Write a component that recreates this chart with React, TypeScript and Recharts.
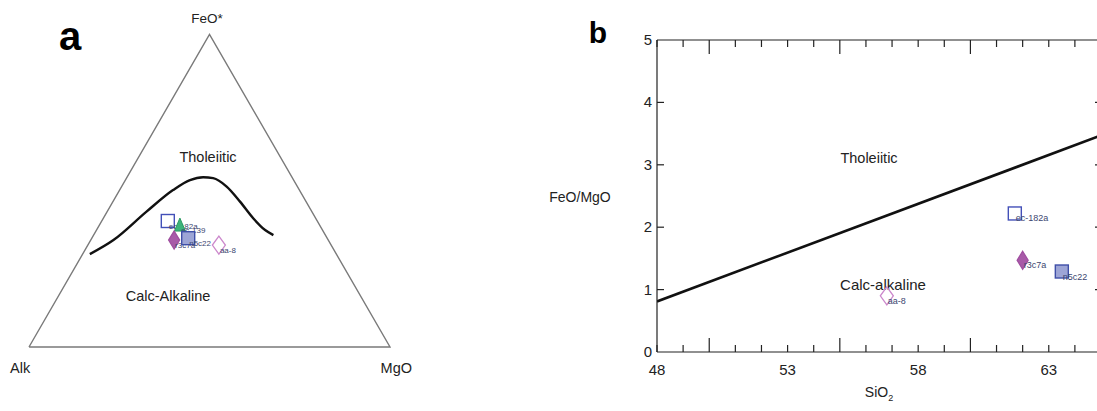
import React from 'react';
import { ComposedChart, Scatter, Line, XAxis, YAxis } from 'recharts';

const FONT = '"Liberation Sans", Arial, sans-serif';

// panel a: AFM ternary, Irvine & Baragar boundary (wt% Alk / FeO* / MgO)
const curveAlk = [68.3, 59.5, 45.8, 35.0, 28.7, 24.6, 22.0, 19.6, 18.3, 17.3, 15.9, 14.4];
const curveFeO = [29.7, 34.2, 43.3, 50.2, 53.4, 54.3, 54.0, 51.3, 46.5, 41.2, 37.4, 35.8];
const curveMgO = [2.0, 6.3, 10.9, 14.8, 17.9, 21.1, 24.0, 29.1, 35.2, 41.5, 46.7, 49.8];

const cornerAlk = [100, 0, 0, 100];
const cornerFeO = [0, 0, 100, 0];
const cornerMgO = [0, 100, 0, 0];

const afmNames = ['ec-182a', 'ec-139', 'r3c7a', 'n5c22', 'aa-8'];
const afmAlk = [41.4, 38.7, 42.7, 38.5, 31.1];
const afmFeO = [40.3, 39.0, 34.2, 34.8, 32.6];
const afmMgO = [18.3, 22.3, 23.1, 26.7, 36.3];

// panel b: FeO/MgO vs SiO2
const ratioNames = ['ec-182a', 'r3c7a', 'n5c22', 'aa-8'];
const ratioSiO2 = [61.7, 62.0, 63.5, 56.8];
const ratioFeOMgO = [2.22, 1.47, 1.29, 0.9];

const boundarySiO2 = [48, 65];
const boundaryRatio = [0.81, 3.47];

const xTicks = [48, 49, 50, 51, 52, 53, 54, 55, 56, 57, 58, 59, 60, 61, 62, 63, 64, 65];
const xLabels = [48, 53, 58, 63];
const yTicks = [0, 1, 2, 3, 4, 5];

const markerStyle: Record<string, { shape: string; fill: string; stroke: string }> = {
  'ec-182a': { shape: 'square', fill: 'none', stroke: '#4350b8' },
  'ec-139': { shape: 'triangle', fill: '#3db37a', stroke: '#2d9a63' },
  'r3c7a': { shape: 'diamond', fill: '#a85aa8', stroke: '#a04fa0' },
  'n5c22': { shape: 'square', fill: '#9da5d6', stroke: '#3f4fa8' },
  'aa-8': { shape: 'diamond', fill: 'none', stroke: '#cc88cc' },
};

const toTernary = (a: number, f: number, m: number) => {
  const s = a + f + m;
  const F = f / s;
  const M = m / s;
  return { x: M + F / 2, y: (F * Math.sqrt(3)) / 2 };
};

const curveData = curveFeO.map((f, i) => toTernary(curveAlk[i], f, curveMgO[i]));
const triangleData = cornerFeO.map((f, i) => toTernary(cornerAlk[i], f, cornerMgO[i]));
const afmData = afmNames.map((name, i) => ({ name, ...toTernary(afmAlk[i], afmFeO[i], afmMgO[i]) }));
const ratioData = ratioNames.map((name, i) => ({ name, x: ratioSiO2[i], y: ratioFeOMgO[i] }));
const boundaryData = boundarySiO2.map((x, i) => ({ x, y: boundaryRatio[i] }));

const makeMarker = (fontSize: number, dy: number) => (props: any) => {
  const { cx, cy, payload } = props;
  const st = markerStyle[payload.name];
  let mark;
  if (st.shape === 'square') {
    mark = <rect x={cx - 6.5} y={cy - 6.5} width={13} height={13} fill={st.fill} stroke={st.stroke} strokeWidth={1.4} />;
  } else if (st.shape === 'triangle') {
    mark = <polygon points={`${cx},${cy - 7} ${cx + 5.5},${cy + 6} ${cx - 5.5},${cy + 6}`} fill={st.fill} stroke={st.stroke} />;
  } else {
    const hw = st.fill === 'none' ? 6.5 : 5.5;
    mark = (
      <polygon
        points={`${cx},${cy - 9} ${cx + hw},${cy} ${cx},${cy + 9} ${cx - hw},${cy}`}
        fill={st.fill}
        stroke={st.stroke}
        strokeWidth={1.3}
      />
    );
  }
  return (
    <g>
      {mark}
      <text x={cx + 1} y={cy + dy} fontSize={fontSize} fill="#3b4670" fontFamily={FONT}>
        {payload.name}
      </text>
    </g>
  );
};

const BottomTick = (props: any) => {
  const { x, y, payload } = props;
  const v = payload.value;
  const len = v % 5 === 0 ? 14 : 7;
  return (
    <g>
      <line x1={x} x2={x} y1={y} y2={y - len} stroke="#222" strokeWidth={1.2} />
      {xLabels.includes(v) && (
        <text x={x} y={y + 23} textAnchor="middle" fontSize={15} fill="#222" fontFamily={FONT}>
          {v}
        </text>
      )}
    </g>
  );
};

const TopTick = (props: any) => {
  const { x, y, payload } = props;
  const len = payload.value % 5 === 0 ? 14 : 7;
  return <line x1={x} x2={x} y1={y} y2={y + len} stroke="#222" strokeWidth={1.2} />;
};

const LeftTick = (props: any) => {
  const { x, y, payload } = props;
  const v = payload.value;
  return (
    <g>
      {v > 0 && v < 5 && <line x1={x} x2={x + 7} y1={y} y2={y} stroke="#222" strokeWidth={1.2} />}
      <text x={x - 5} y={y + 5} textAnchor="end" fontSize={15} fill="#222" fontFamily={FONT}>
        {v}
      </text>
    </g>
  );
};

const RightTick = (props: any) => {
  const { x, y, payload } = props;
  const v = payload.value;
  if (v === 0 || v === 5) return <g />;
  return <line x1={x} x2={x - 6} y1={y} y2={y} stroke="#222" strokeWidth={1.2} />;
};

const Nothing = () => <g />;

export default function App() {
  const txt = { fontFamily: FONT, fill: '#222' };
  return (
    <div style={{ position: 'fixed', left: 0, top: 0, width: 1097, height: 411, overflow: 'hidden', background: '#fff' }}>
      <svg width={1097} height={411} style={{ position: 'absolute', left: 0, top: 0 }}>
        <text x={70} y={50} textAnchor="middle" fontSize={40} fontWeight="bold" style={{ fontFamily: '"Liberation Sans Narrow", "Liberation Sans", Arial' }}>
          a
        </text>
        <text x={598} y={43} textAnchor="middle" fontSize={30} fontWeight="bold" style={{ fontFamily: FONT }}>
          b
        </text>
        <text x={207} y={23} textAnchor="middle" fontSize={13.5} {...txt}>FeO*</text>
        <text x={10} y={373} fontSize={14.5} {...txt}>Alk</text>
        <text x={412} y={373} textAnchor="end" fontSize={14.5} {...txt}>MgO</text>
        <text x={208} y={162} textAnchor="middle" fontSize={14.5} {...txt}>Tholeiitic</text>
        <text x={168} y={301} textAnchor="middle" fontSize={14.5} {...txt}>Calc-Alkaline</text>

        <text x={869} y={163} textAnchor="middle" fontSize={14.5} {...txt}>Tholeiitic</text>
        <text x={883} y={290} textAnchor="middle" fontSize={15} {...txt}>Calc-alkaline</text>
        <text x={580} y={202} textAnchor="middle" fontSize={14} {...txt}>FeO/MgO</text>
        <text x={879} y={397} textAnchor="middle" fontSize={14} {...txt}>
          SiO<tspan fontSize={9} dy={4}>2</tspan>
        </text>
      </svg>

      <div style={{ position: 'absolute', left: 0, top: 0 }}>
        <ComposedChart width={420} height={411} margin={{ top: 14.88, right: 11.95, bottom: 45.95, left: 10.95 }}>
          <XAxis type="number" dataKey="x" domain={[-0.05, 1.05]} allowDataOverflow hide />
          <YAxis type="number" dataKey="y" domain={[-0.05, 0.92]} allowDataOverflow hide />
          <Scatter data={triangleData} line={{ stroke: '#7a7a7a', strokeWidth: 1.4 }} lineType="joint" shape={Nothing} isAnimationActive={false} />
          <Line data={curveData} dataKey="y" type="monotone" dot={false} stroke="#111" strokeWidth={2.4} isAnimationActive={false} />
          <Scatter data={afmData} shape={makeMarker(8, 8)} isAnimationActive={false} />
        </ComposedChart>
      </div>

      <div style={{ position: 'absolute', left: 560, top: 0 }}>
        <ComposedChart width={561} height={411} margin={{ top: 30, right: 0, bottom: 19, left: 0 }}>
          <XAxis
            xAxisId="bottom"
            orientation="bottom"
            type="number"
            dataKey="x"
            domain={[48, 65]}
            ticks={xTicks}
            interval={0}
            allowDataOverflow
            height={40}
            tickSize={0}
            tickMargin={0}
            tickLine={false}
            tick={<BottomTick />}
            axisLine={{ stroke: '#222', strokeWidth: 1.2 }}
          />
          <XAxis
            xAxisId="top"
            orientation="top"
            type="number"
            dataKey="x"
            domain={[48, 65]}
            ticks={xTicks}
            interval={0}
            allowDataOverflow
            height={10}
            tickSize={0}
            tickMargin={0}
            tickLine={false}
            tick={<TopTick />}
            axisLine={{ stroke: '#222', strokeWidth: 1.2 }}
          />
          <YAxis
            yAxisId="left"
            type="number"
            domain={[0, 5]}
            ticks={yTicks}
            interval={0}
            allowDataOverflow
            width={97}
            tickSize={0}
            tickMargin={0}
            tickLine={false}
            tick={<LeftTick />}
            axisLine={{ stroke: '#222', strokeWidth: 1.2 }}
          />
          <YAxis
            yAxisId="right"
            orientation="right"
            type="number"
            domain={[0, 5]}
            ticks={yTicks}
            interval={0}
            allowDataOverflow
            width={20}
            tickSize={0}
            tickMargin={0}
            tickLine={false}
            tick={<RightTick />}
            axisLine={{ stroke: '#222', strokeWidth: 1.2 }}
          />
          <Line
            xAxisId="bottom"
            yAxisId="left"
            data={boundaryData}
            dataKey="y"
            type="linear"
            dot={false}
            stroke="#111"
            strokeWidth={2.6}
            isAnimationActive={false}
          />
          <Scatter xAxisId="bottom" yAxisId="left" data={ratioData} dataKey="y" shape={makeMarker(9, 8)} isAnimationActive={false} />
        </ComposedChart>
      </div>
    </div>
  );
}
